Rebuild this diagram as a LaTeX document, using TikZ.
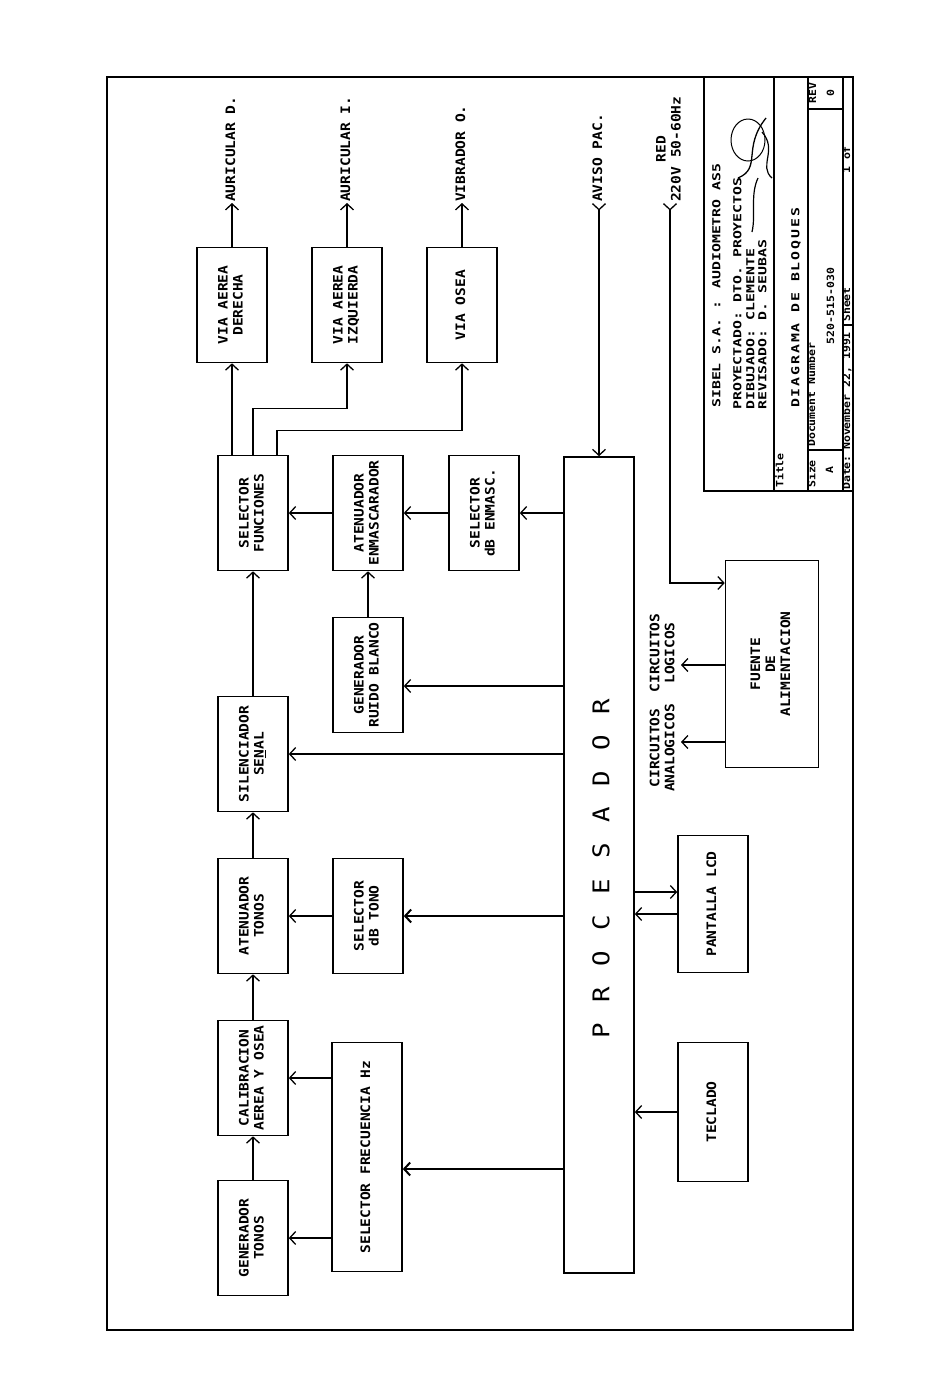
\documentclass[tikz,border=0pt]{standalone}
\usepackage{fontspec}
\usetikzlibrary{arrows.meta}
\newfontfamily\plotfont{DejaVu Sans Mono}[FakeStretch=1.12]
\newfontfamily\tbfont{DejaVu Sans Mono}[FakeStretch=1.35]
\newfontfamily\tbsfont{DejaVu Sans Mono}[FakeStretch=1.15]
\newcommand\rt[1]{\rotatebox{90}{\begin{tabular}{@{}c@{}}#1\end{tabular}}}

\begin{document}
\begin{tikzpicture}[x=1pt, y=-1pt,
    blk/.style={draw, line width=1.6pt, minimum width=70pt, minimum height=115pt, inner sep=0pt, font=\plotfont\bfseries\fontsize{13}{15}\selectfont},
    lbl/.style={inner sep=1pt, font=\plotfont\bfseries\fontsize{13}{15}\selectfont},
    tb/.style={inner sep=0pt, font=\tbfont\bfseries\fontsize{11}{12}\selectfont},
    tbs/.style={inner sep=0pt, font=\tbsfont\bfseries\fontsize{10}{11}\selectfont},
    arr/.style={line width=1.3pt, -{Straight Barb[length=6pt,width=13pt]}},
    inarr/.style={line width=1.3pt, {Straight Barb[reversed,length=6pt,width=13pt]}-{Straight Barb[length=6pt,width=13pt]}}]
    \useasboundingbox (0,0) rectangle (950,1398);
    \draw[line width=1.8pt] (107,77) rectangle (853,1330);

    \node[blk] (gt) at (253,1238) {\rt{GENERADOR\\TONOS}};
    \node[blk] (cal) at (253,1078) {\rt{CALIBRACION\\AEREA Y OSEA}};
    \node[blk] (atn) at (253,916) {\rt{ATENUADOR\\TONOS}};
    \node[blk] (sil) at (253,754) {\rt{SILENCIADOR\\SE\underline{N}AL}};
    \node[blk] (sf) at (253,513) {\rt{SELECTOR\\FUNCIONES}};
    \node[blk] (vad) at (232,305) {\rt{VIA AEREA\\DERECHA}};
    \node[blk] (vai) at (347,305) {\rt{VIA AEREA\\IZQUIERDA}};
    \node[blk] (vos) at (462,305) {\rt{VIA OSEA}};
    \node[blk] (aen) at (368,513) {\rt{ATENUADOR\\ENMASCARADOR}};
    \node[blk] (sde) at (484,513) {\rt{SELECTOR\\dB ENMASC.}};
    \node[blk] (grb) at (368,675) {\rt{GENERADOR\\RUIDO BLANCO}};
    \node[blk] (sdt) at (368,916) {\rt{SELECTOR\\dB TONO}};
    \node[blk, minimum height=229pt] (sfh) at (367,1157) {\rt{SELECTOR FRECUENCIA Hz}};
    \node[blk, minimum height=816pt] (proc) at (599,865) {};
    \node[blk, minimum height=137pt] (lcd) at (713,904) {\rt{PANTALLA LCD}};
    \node[blk, minimum height=139pt] (tec) at (713,1112) {\rt{TECLADO}};
    \node[blk, minimum width=93pt, minimum height=207pt] (fue) at (772,664) {\rt{FUENTE\\DE\\ALIMENTACION}};

    \foreach \l [count=\i] in {P,R,O,C,E,S,A,D,O,R}
        \node[inner sep=0pt, font=\plotfont\fontsize{23}{23}\selectfont] (pr\i) at (601,{1067-36*\i}) {\rotatebox{90}{\l}};

    \draw[arr] (gt) -- (cal);
    \draw[arr] (cal) -- (atn);
    \draw[arr] (atn) -- (sil);
    \draw[arr] (sil) -- (sf);
    \draw[arr] (sf.north -| vad) -- (vad);
    \draw[arr] (sf.north) -- ++(0,-46) -| (vai.south);
    \draw[arr] ([xshift=24pt]sf.north) -- ++(0,-24) -| (vos.south);
    \draw[arr] (aen) -- (sf);
    \draw[arr] (sde) -- (aen);
    \draw[arr] (proc.west |- sde) -- (sde);
    \draw[arr] (grb) -- (aen);
    \draw[arr] (proc.west |- 0,686) -- (grb.east |- 0,686);
    \draw[arr] (proc.west |- sil) -- (sil);
    \draw[arr] (sdt) -- (atn);
    \draw[arr, line width=2pt] (proc.west |- sdt) -- (sdt);
    \draw[arr] (sfh.west |- cal) -- (cal);
    \draw[arr] (sfh.west |- gt) -- (gt);
    \draw[arr, line width=2pt] (proc.west |- 0,1169) -- (sfh.east |- 0,1169);
    \draw[arr] (proc.east |- 0,892) -- (lcd.west |- 0,892);
    \draw[arr] (lcd.west |- 0,914) -- (proc.east |- 0,914);
    \draw[arr] (tec) -- (proc.east |- tec);

    \coordinate (aud) at (232,203);
    \coordinate (aui) at (347,203);
    \coordinate (vib) at (462,203);
    \draw[arr] (vad) -- (aud);
    \draw[arr] (vai) -- (aui);
    \draw[arr] (vos) -- (vib);
    \node[lbl, anchor=south] (audl) at (aud) {\rt{AURICULAR D.}};
    \node[lbl, anchor=south] (auil) at (aui) {\rt{AURICULAR I.}};
    \node[lbl, anchor=south] (vibl) at (vib) {\rt{VIBRADOR O.}};

    \coordinate (avi) at (599,203);
    \draw[inarr] (avi) -- (proc);
    \node[lbl, anchor=south] (avil) at (avi) {\rt{AVISO PAC.}};
    \coordinate (red) at (670,203);
    \draw[inarr] (red) |- (fue.west |- 0,583);
    \node[lbl, anchor=south] (redl) at (red) {\rt{RED\\220V 50-60Hz}};

    \coordinate (clog) at (681,665);
    \coordinate (cana) at (681,742);
    \draw[arr] (fue.west |- clog) -- (clog);
    \draw[arr] (fue.west |- cana) -- (cana);
    \node[lbl, anchor=east] (clogl) at (680,653) {\rt{CIRCUITOS\\LOGICOS}};
    \node[lbl, anchor=east] (canal) at (680,748) {\rt{CIRCUITOS\\ANALOGICOS}};

    \draw[line width=1.4pt] (704,77) -- (704,491) -- (853,491);
    \draw[line width=1.2pt] (774,77) -- (774,491) (808,77) -- (808,491) (843,77) -- (843,491)
        (808,109) -- (843,109) (808,450) -- (843,450) (843,325) -- (853,325);
    \node[tb, anchor=south] (sibel) at (718,408) {\rt{SIBEL S.A. : AUDIOMETRO AS5}};
    \node[tb, anchor=south] (proy) at (739,410) {\rt{PROYECTADO: DTO. PROYECTOS}};
    \node[tb, anchor=south] (dibu) at (752,410) {\rt{DIBUJADO: CLEMENTE}};
    \node[tb, anchor=south] (revi) at (764,410) {\rt{REVISADO: D. SEUBAS}};
    \node[tbs, anchor=south] (titl) at (781,488) {\rt{Title}};
    \node[tb, anchor=south] (diag) at (797,408) {\rt{\addfontfeature{LetterSpace=17}DIAGRAMA DE BLOQUES}};
    \node[tbs, anchor=south] (size) at (813,488) {\rt{Size}};
    \node[tbs, anchor=south] (docn) at (813,447) {\rt{Document Number}};
    \node[tbs] (sza) at (831,470) {\rt{A}};
    \node[tbs] (dnum) at (832,306) {\rt{520-515-030}};
    \node[tbs, anchor=south] (rev) at (814,104) {\rt{REV}};
    \node[tbs] (revn) at (832,93) {\rt{0}};
    \node[tbs, anchor=south] (date) at (848,490) {\rt{Date:}};
    \node[tbs, anchor=south] (dval) at (848,450) {\rt{November 22, 1991}};
    \node[tbs, anchor=south] (sht) at (848,322) {\rt{Sheet}};
    \node[tbs, anchor=south] (shtn) at (848,174) {\rt{1 of}};

    \draw[line width=1pt] (748,140) ellipse (17 and 21);
    \draw[line width=1.3pt] (738,178) .. controls (762,168) and (742,148) .. (766,118);
    \draw[line width=1.2pt] (772,178) .. controls (758,166) and (778,150) .. (762,132);
    \draw[line width=1.2pt] (752,232) .. controls (756,215) and (750,195) .. (758,178);
\end{tikzpicture}
\end{document}
